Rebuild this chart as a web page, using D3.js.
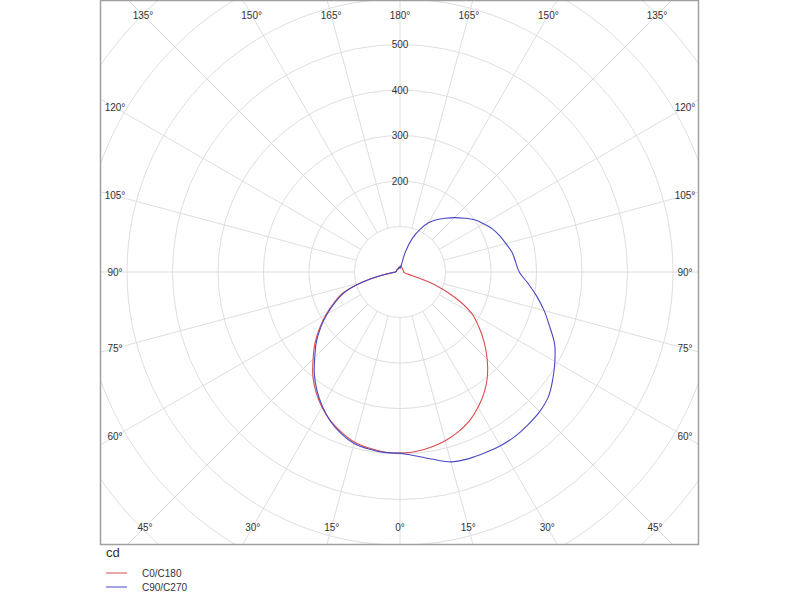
<!DOCTYPE html>
<html>
<head>
<meta charset="utf-8">
<script src="https://cdn.jsdelivr.net/npm/d3@7"></script>
<style>
  body { margin: 0; background: #fff; }
  svg { display: block; }
  text { font-family: "Liberation Sans", Arial, sans-serif; }
</style>
</head>
<body>
<svg id="chart" width="800" height="600"></svg>
<script>
// ---- data ----
const gammaAngles = d3.range(0, 181, 5); // 0..180 step 5
// C0 (right side, red)
const c0 = [398,396,391,384,374,361,343,323,299,271,242,212,182,135,80,18,10,8,8,8,8,8,8,8,8,8,8,8,9,9,10,10,11,12,13,13,13];
// C180 (left side, red)
const c180 = [398,397,393,387,375,361,343,322,298,270,244,216,188,160,132,86,40,18,10,9,8,8,8,8,8,8,8,8,8,8,9,9,10,10,11,11,11];
// C90 (right side, blue)
const c90 = [398,406,418,432,437,439,441,441,438,434,426,410,393,375,350,328,305,282,262,255,250,241,233,224,212,200,184,169,154,140,125,103,78,45,14,9,8];
// C270 (left side, blue)
const c270 = [398,398,395,390,378,362,341,318,293,265,240,213,185,157,129,85,41,18,10,9,8,8,8,8,8,8,8,8,8,8,8,8,9,9,10,10,11];
const ringValues = [100,200,300,400,500,600,700,800,900];
const ringLabels = [200,300,400,500];
const spokeAngles = d3.range(0, 360, 15);
const seriesNames = ["C0/C180", "C90/C270"];
const seriesColors = ["#d94c4c", "#4848c4"];

// ---- layout ----
const svg = d3.select("#chart");
const cx = 400, cy = 272;
const box = {x0: 100.5, y0: 0.5, x1: 698.5, y1: 544.5};
const r = d3.scaleLinear().domain([0, 100]).range([0, 45.5]);

svg.append("defs").append("clipPath").attr("id", "clip")
  .append("rect").attr("x", box.x0).attr("y", box.y0)
  .attr("width", box.x1 - box.x0).attr("height", box.y1 - box.y0);

const grid = svg.append("g").attr("clip-path", "url(#clip)")
  .append("g").attr("transform", `translate(${cx},${cy})`);

grid.selectAll("circle.ring").data(ringValues).enter().append("circle")
  .attr("class", "ring").attr("r", d => r(d))
  .attr("fill", "none").attr("stroke", "#dedede").attr("stroke-width", 1);

// spokes (gamma measured from downward direction)
grid.selectAll("line.spoke").data(spokeAngles).enter().append("line")
  .attr("x1", d => r(100) * Math.sin(d * Math.PI / 180))
  .attr("y1", d => r(100) * Math.cos(d * Math.PI / 180))
  .attr("x2", d => 600 * Math.sin(d * Math.PI / 180))
  .attr("y2", d => 600 * Math.cos(d * Math.PI / 180))
  .attr("stroke", "#dedede").attr("stroke-width", 1);

// ring labels
grid.selectAll("text.rl").data(ringLabels).enter().append("text")
  .attr("x", 0).attr("y", d => -r(d))
  .attr("dy", "0.35em").attr("text-anchor", "middle")
  .attr("font-size", 10).attr("fill", "#333")
  .text(d => d);

// angle labels on inset rectangle
const inset = {l: 115 - cx, r: 685 - cx, t: 15 - cy, b: 527 - cy};
const angleLabelData = [];
spokeAngles.forEach(a => {
  const dx = Math.sin(a * Math.PI / 180), dy = Math.cos(a * Math.PI / 180);
  let t = Infinity;
  if (dx > 1e-9) t = Math.min(t, inset.r / dx);
  if (dx < -1e-9) t = Math.min(t, inset.l / dx);
  if (dy > 1e-9) t = Math.min(t, inset.b / dy);
  if (dy < -1e-9) t = Math.min(t, inset.t / dy);
  const lab = a <= 180 ? a : 360 - a;
  angleLabelData.push({x: dx * t, y: dy * t, label: lab + "°"});
});
grid.selectAll("text.al").data(angleLabelData).enter().append("text")
  .attr("x", d => d.x).attr("y", d => d.y)
  .attr("dy", "0.35em").attr("text-anchor", "middle")
  .attr("font-size", 10).attr("fill", "#333")
  .text(d => d.label);

// curves
function buildPoints(rightVals, leftVals) {
  const pts = [];
  gammaAngles.forEach((g, i) => pts.push([Math.PI - g * Math.PI / 180, r(rightVals[i])]));
  for (let i = gammaAngles.length - 1; i >= 0; i--) {
    pts.push([Math.PI + gammaAngles[i] * Math.PI / 180, r(leftVals[i])]);
  }
  return pts;
}
const radial = d3.lineRadial().angle(d => d[0]).radius(d => d[1])
  .curve(d3.curveCatmullRomClosed.alpha(0.5));
const curves = [buildPoints(c0, c180), buildPoints(c90, c270)];
grid.selectAll("path.curve").data(curves).enter().append("path")
  .attr("d", radial).attr("fill", "none")
  .attr("stroke", (d, i) => seriesColors[i]).attr("stroke-width", 1.1);

// frame
svg.append("rect").attr("x", box.x0).attr("y", box.y0)
  .attr("width", box.x1 - box.x0).attr("height", box.y1 - box.y0)
  .attr("fill", "none").attr("stroke", "#a0a0a0").attr("stroke-width", 1.5);

// unit
svg.append("text").attr("x", 106).attr("y", 557).attr("font-size", 13).attr("fill", "#333").text("cd");

// legend
const lg = svg.append("g").selectAll("g").data(seriesNames).enter().append("g")
  .attr("transform", (d, i) => `translate(106,${573 + i * 14})`);
lg.append("line").attr("x1", 0).attr("x2", 21).attr("y1", 0).attr("y2", 0)
  .attr("stroke", (d, i) => seriesColors[i]).attr("stroke-width", 1);
lg.append("text").attr("x", 36).attr("y", 0).attr("dy", "0.35em")
  .attr("font-size", 10).attr("fill", "#333").text(d => d);
</script>
</body>
</html>
